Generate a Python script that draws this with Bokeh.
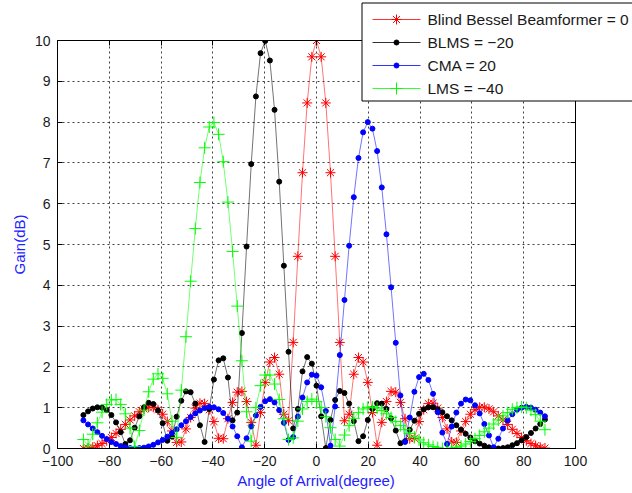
from bokeh.plotting import figure
from bokeh.models import LinearAxis, FixedTicker, BoxAnnotation
from bokeh.core.properties import value
from bokeh.embed import file_html
from bokeh.resources import INLINE

# ---- data ----
ANGLES = [
    -90.0, -88.2, -86.4, -84.6, -82.8, -81.0, -79.2, -77.4, -75.6, -73.8,
    -72.0, -70.2, -68.4, -66.6, -64.8, -63.0, -61.2, -59.4, -57.6, -55.8,
    -54.0, -52.2, -50.4, -48.6, -46.8, -45.0, -43.2, -41.4, -39.6, -37.8,
    -36.0, -34.2, -32.4, -30.6, -28.8, -27.0, -25.2, -23.4, -21.6, -19.8,
    -18.0, -16.2, -14.4, -12.6, -10.8, -9.0, -7.2, -5.4, -3.6, -1.8,
    0.0, 1.8, 3.6, 5.4, 7.2, 9.0, 10.8, 12.6, 14.4, 16.2,
    18.0, 19.8, 21.6, 23.4, 25.2, 27.0, 28.8, 30.6, 32.4, 34.2,
    36.0, 37.8, 39.6, 41.4, 43.2, 45.0, 46.8, 48.6, 50.4, 52.2,
    54.0, 55.8, 57.6, 59.4, 61.2, 63.0, 64.8, 66.6, 68.4, 70.2,
    72.0, 73.8, 75.6, 77.4, 79.2, 81.0, 82.8, 84.6, 86.4, 88.2,
]

BESSEL = [
    0.00, 0.01, 0.03, 0.07, 0.12, 0.19, 0.27, 0.37, 0.47, 0.59,
    0.70, 0.80, 0.90, 0.97, 1.01, 1.01, 0.95, 0.84, 0.66, 0.43,
    0.15, 0.16, 0.48, 0.76, 0.99, 1.11, 1.10, 0.95, 0.66, 0.25,
    0.24, 0.73, 1.13, 1.38, 1.40, 1.15, 0.64, 0.08, 0.88, 1.62,
    2.12, 2.23, 1.82, 0.84, 0.68, 2.60, 4.71, 6.76, 8.47, 9.60,
    10.00, 9.60, 8.47, 6.76, 4.71, 2.60, 0.68, 0.84, 1.82, 2.23,
    2.12, 1.62, 0.88, 0.08, 0.64, 1.15, 1.40, 1.38, 1.13, 0.73,
    0.24, 0.25, 0.66, 0.95, 1.10, 1.11, 0.99, 0.76, 0.48, 0.16,
    0.15, 0.43, 0.66, 0.84, 0.95, 1.01, 1.01, 0.97, 0.90, 0.80,
    0.70, 0.59, 0.47, 0.37, 0.27, 0.19, 0.12, 0.07, 0.03, 0.01,
]

BLMS = [
    0.82, 0.91, 0.98, 1.01, 1.00, 0.94, 0.82, 0.64, 0.40, 0.11,
    0.20, 0.51, 0.79, 1.01, 1.12, 1.09, 0.93, 0.62, 0.19, 0.29,
    0.78, 1.17, 1.40, 1.38, 1.10, 0.57, 0.16, 0.97, 1.69, 2.16,
    2.21, 1.74, 0.69, 0.88, 2.83, 4.95, 6.97, 8.63, 9.69, 9.99,
    9.51, 8.30, 6.54, 4.48, 2.37, 0.49, 0.97, 1.89, 2.24, 2.08,
    1.54, 0.79, 0.01, 0.70, 1.19, 1.41, 1.36, 1.10, 0.67, 0.18,
    0.30, 0.70, 0.98, 1.11, 1.10, 0.97, 0.74, 0.44, 0.13, 0.18,
    0.46, 0.68, 0.85, 0.96, 1.01, 1.01, 0.96, 0.89, 0.79, 0.69,
    0.57, 0.46, 0.36, 0.27, 0.18, 0.12, 0.07, 0.03, 0.01, 0.00,
    0.01, 0.03, 0.08, 0.13, 0.20, 0.28, 0.38, 0.49, 0.60, 0.71,
]

CMA = [
    0.69, 0.59, 0.49, 0.40, 0.31, 0.23, 0.16, 0.11, 0.06, 0.03,
    0.01, 0.00, 0.01, 0.02, 0.05, 0.09, 0.15, 0.21, 0.29, 0.38,
    0.47, 0.57, 0.67, 0.77, 0.86, 0.93, 0.99, 1.02, 1.01, 0.96,
    0.87, 0.73, 0.54, 0.30, 0.03, 0.25, 0.54, 0.81, 1.02, 1.16,
    1.21, 1.13, 0.94, 0.63, 0.21, 0.28, 0.78, 1.25, 1.62, 1.81,
    1.79, 1.50, 0.92, 0.07, 1.03, 2.29, 3.64, 4.97, 6.16, 7.12,
    7.75, 8.00, 7.84, 7.29, 6.40, 5.25, 3.95, 2.59, 1.30, 0.16,
    0.76, 1.39, 1.75, 1.83, 1.68, 1.34, 0.89, 0.39, 0.11, 0.54,
    0.88, 1.10, 1.20, 1.18, 1.06, 0.86, 0.60, 0.32, 0.03, 0.24,
    0.49, 0.69, 0.84, 0.95, 1.00, 1.02, 1.00, 0.95, 0.88, 0.79,
]

LMS = [
    0.22, 0.06, 0.35, 0.63, 0.89, 1.08, 1.19, 1.20, 1.08, 0.85,
    0.50, 0.05, 0.44, 0.94, 1.39, 1.70, 1.83, 1.72, 1.34, 0.67,
    0.27, 1.43, 2.74, 4.10, 5.39, 6.52, 7.37, 7.88, 7.99, 7.70,
    7.03, 6.04, 4.83, 3.49, 2.15, 0.90, 0.18, 1.00, 1.54, 1.80,
    1.80, 1.58, 1.20, 0.73, 0.22, 0.26, 0.67, 0.97, 1.15, 1.21,
    1.15, 1.00, 0.78, 0.51, 0.22, 0.06, 0.33, 0.56, 0.74, 0.88,
    0.97, 1.01, 1.02, 0.99, 0.93, 0.85, 0.76, 0.66, 0.56, 0.46,
    0.37, 0.28, 0.21, 0.14, 0.09, 0.05, 0.02, 0.00, 0.00, 0.01,
    0.03, 0.06, 0.11, 0.17, 0.24, 0.32, 0.41, 0.50, 0.60, 0.70,
    0.80, 0.88, 0.96, 1.00, 1.02, 1.00, 0.94, 0.83, 0.67, 0.46,
]

SERIES_NAMES = ["Blind Bessel Beamformer = 0", "BLMS = \u221220", "CMA = 20", "LMS = \u221240"]

X_TICKS = [-100, -80, -60, -40, -20, 0, 20, 40, 60, 80, 100]
X_TICK_LABELS = ["\u2212100", "\u221280", "\u221260", "\u221240", "\u221220", "0",
                 "20", "40", "60", "80", "100"]
Y_TICKS = [0, 1, 2, 3, 4, 5, 6, 7, 8, 9, 10]

X_LABEL = "Angle of Arrival(degree)"
Y_LABEL = "Gain(dB)"

FONT = "Liberation Sans"

# ---- main figure ----
p = figure(width=632, height=493, x_range=(-100, 100), y_range=(0, 10),
           output_backend="svg", toolbar_location=None,
           min_border_left=57, min_border_right=57,
           min_border_top=40, min_border_bottom=45)
p.background_fill_color = "white"
p.border_fill_color = "white"
p.outline_line_color = "black"
p.outline_line_width = 1

for ax in (p.xaxis[0], p.yaxis[0]):
    ax.major_tick_in = 5
    ax.major_tick_out = 0
    ax.minor_tick_line_color = None
    ax.axis_line_color = "black"
    ax.major_tick_line_color = "black"
    ax.major_label_text_font = FONT
    ax.major_label_text_font_size = "14px"
    ax.major_label_text_color = "#1a1a1a"
    ax.axis_label_text_font = FONT
    ax.axis_label_text_font_size = "15px"
    ax.axis_label_text_font_style = "normal"
    ax.axis_label_text_color = "#2222ff"

p.xaxis.ticker = FixedTicker(ticks=X_TICKS)
p.xaxis.major_label_overrides = dict(zip(X_TICKS, X_TICK_LABELS))
p.xaxis.major_label_standoff = 7
p.xaxis.axis_label = X_LABEL
p.xaxis.axis_label_standoff = 3

p.yaxis.ticker = FixedTicker(ticks=Y_TICKS)
p.yaxis.major_label_standoff = 7
p.yaxis.axis_label = Y_LABEL
p.yaxis.axis_label_standoff = 4

# mirrored axes with inward ticks (box)
for side in ("right", "above"):
    tk = Y_TICKS if side == "right" else X_TICKS
    ax = LinearAxis(ticker=FixedTicker(ticks=tk), major_tick_in=5, major_tick_out=0,
                    minor_tick_line_color=None, major_label_text_font_size="0px",
                    major_label_text_color=None, axis_line_color="black")
    p.add_layout(ax, side)

# grid
for g in (p.xgrid[0], p.ygrid[0]):
    g.grid_line_color = "black"
    g.grid_line_alpha = 0.75
    g.grid_line_dash = "2 3"
    g.grid_line_width = 1
p.xgrid.ticker = FixedTicker(ticks=X_TICKS)
p.ygrid.ticker = FixedTicker(ticks=Y_TICKS)

# ---- series ----
styles = [
    (BESSEL, "#ff0000", "asterisk", 10),
    (BLMS, "#000000", "circle", 5),
    (CMA, "#0000ff", "circle", 5),
    (LMS, "#00ff00", "cross", 12),
]
for vals, col, mk, sz in styles:
    p.line(ANGLES, vals, line_color=col, line_width=1, line_alpha=0.55)
    p.scatter(ANGLES, vals, marker=mk, size=sz, line_color=col,
              fill_color=col, line_width=1)

# ---- legend: a small overlaid figure whose units are pixels, so the box may
#      extend past the axes box as in the reference ----
LW, LH = 272, 101
ROW_TOP, ROW_STEP = 18, 23          # first row centre and row pitch (px from top)
GLYPH_X0, GLYPH_X1, TEXT_X = 12, 60, 67

lg = figure(width=LW, height=LH, x_range=(0, LW), y_range=(LH, 0), title=None,
            output_backend="svg", toolbar_location=None,
            x_axis_type=None, y_axis_type=None,
            min_border=0, min_border_left=0, min_border_right=0,
            min_border_top=0, min_border_bottom=0)
lg.grid.visible = False
lg.outline_line_color = None
lg.background_fill_color = None
lg.border_fill_color = None
lg.styles = {"position": "absolute", "left": "360px", "top": "1px", "z-index": "5"}
lg.add_layout(BoxAnnotation(left=1.5, right=LW + 50, top=1.5, bottom=99.5,
                            fill_color="white", fill_alpha=1.0,
                            line_color="black", line_width=1, line_alpha=1.0,
                            level="underlay"))
for r, ((vals, col, mk, sz), name) in enumerate(zip(styles, SERIES_NAMES)):
    yc = ROW_TOP + ROW_STEP * r
    lg.line([GLYPH_X0, GLYPH_X1], [yc, yc], line_color=col, line_width=1, line_alpha=0.8)
    lg.scatter([(GLYPH_X0 + GLYPH_X1) / 2], [yc], marker=mk, size=sz,
               line_color=col, fill_color=col, line_width=1)
    lg.text([TEXT_X], [yc], text=[name], text_font=value(FONT),
            text_font_size="15.5px", text_color="#1a1a1a",
            text_baseline="middle", text_align="left")

open("out.html", "w").write(file_html([p, lg], INLINE))
